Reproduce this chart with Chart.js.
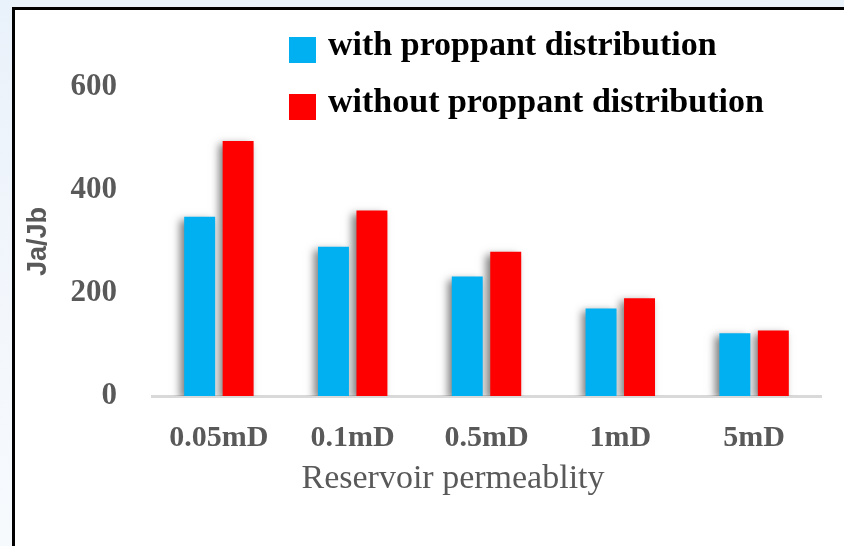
<!DOCTYPE html>
<html>
<head>
<meta charset="utf-8">
<script src="https://cdn.jsdelivr.net/npm/chart.js@4.4.1/dist/chart.umd.min.js"></script>
<style>
  html, body { margin: 0; padding: 0; }
  body {
    width: 844px; height: 546px; overflow: hidden; position: relative;
    background: linear-gradient(180deg, #e9f1fa 0%, #f3f7fc 60%, #f7fafd 100%);
  }
  #frame {
    position: absolute; left: 12px; top: 7px; width: 900px; height: 600px;
    background: #ffffff; border-left: 3px solid #000; border-top: 3px solid #000;
  }
  #chart { position: absolute; left: 0; top: 0; }
</style>
</head>
<body>
<div id="frame"></div>
<canvas id="chart" width="844" height="546"></canvas>
<script>
// Reservoir permeability cases and the Ja/Jb ratio for each
const categories = ['0.05mD', '0.1mD', '0.5mD', '1mD', '5mD'];
const withProppant = [348, 290, 232, 170, 122];
const withoutProppant = [495, 360, 280, 190, 127];
const yTicks = [0, 200, 400, 600];
const seriesNames = ['with proppant distribution', 'without proppant distribution'];
const seriesColors = ['#00B0F0', '#FF0000'];
const xTitle = 'Reservoir permeablity';
const yTitle = 'Ja/Jb';

const SERIF = '"Liberation Serif", "DejaVu Serif", serif';
const GREY = '#595959';

// soft drop shadow behind the bars
const barShadow = {
  id: 'barShadow',
  beforeDatasetsDraw(chart) {
    const ctx = chart.ctx;
    ctx.save();
    ctx.shadowColor = 'rgba(0,0,0,0.5)';
    ctx.shadowBlur = 8;
    ctx.shadowOffsetX = -4;
    ctx.shadowOffsetY = 3;
  },
  afterDatasetsDraw(chart) {
    chart.ctx.restore();
  }
};

// two-row legend at the top right plus the horizontal axis title
const legendAndTitle = {
  id: 'legendAndTitle',
  afterDraw(chart) {
    const ctx = chart.ctx;
    ctx.save();
    const x0 = 289, box = 27, rows = [37, 94];
    chart.data.datasets.forEach((ds, i) => {
      ctx.fillStyle = ds.backgroundColor;
      ctx.fillRect(x0, rows[i], box, 26);
      ctx.fillStyle = '#000000';
      ctx.font = 'bold 34px ' + SERIF;
      ctx.textAlign = 'left';
      ctx.textBaseline = 'alphabetic';
      ctx.fillText(ds.label, 328, rows[i] + 18);
    });
    ctx.fillStyle = GREY;
    ctx.font = '34px ' + SERIF;
    ctx.textAlign = 'center';
    ctx.textBaseline = 'middle';
    ctx.fillText(xTitle, 453, 479);
    ctx.restore();
  }
};

new Chart(document.getElementById('chart'), {
  type: 'bar',
  data: {
    labels: categories,
    datasets: [
      { label: seriesNames[0], data: withProppant, backgroundColor: seriesColors[0] },
      { label: seriesNames[1], data: withoutProppant, backgroundColor: seriesColors[1] }
    ]
  },
  options: {
    responsive: false,
    animation: false,
    devicePixelRatio: 1,
    layout: { padding: { left: 0, top: 87, right: 23, bottom: 0 } },
    datasets: { bar: { categoryPercentage: 0.575, barPercentage: 0.805 } },
    plugins: { legend: { display: false }, tooltip: { enabled: false } },
    scales: {
      x: {
        grid: { display: false, drawTicks: false },
        border: { display: true, color: '#d9d9d9', width: 3 },
        ticks: { color: GREY, font: { family: SERIF, size: 30, weight: 'bold' }, padding: 24 },
        afterFit(scale) { scale.height = 150; }
      },
      y: {
        min: 0, max: 600,
        afterBuildTicks(scale) { scale.ticks = yTicks.map(v => ({ value: v })); },
        grid: { display: false, drawTicks: false },
        border: { display: false },
        ticks: { color: GREY, font: { family: SERIF, size: 31, weight: 'bold' }, padding: 35 },
        title: {
          display: true, text: yTitle, color: GREY,
          font: { family: '"Liberation Sans", Arial, sans-serif', size: 27, weight: 'bold', lineHeight: 1.2 },
          padding: { top: 22, bottom: 0 }
        },
        afterFit(scale) { scale.width = 152; }
      }
    }
  },
  plugins: [barShadow, legendAndTitle]
});
</script>
</body>
</html>
